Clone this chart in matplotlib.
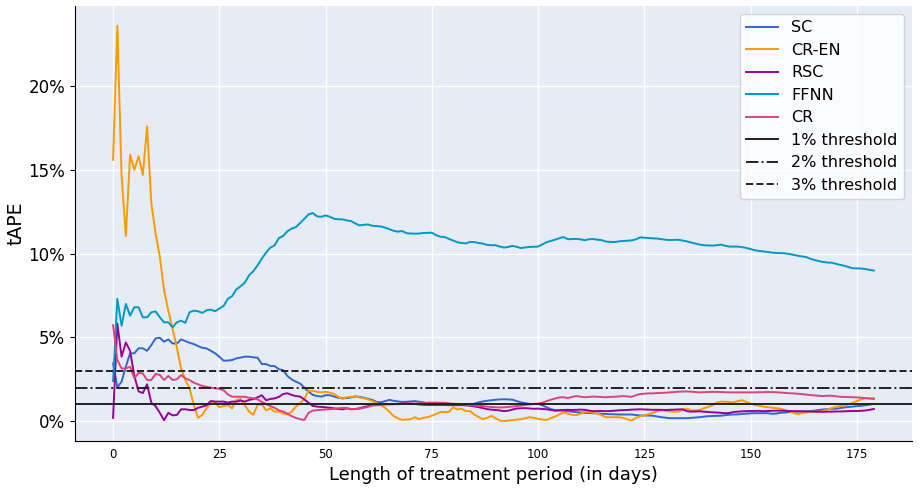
import numpy as np
import matplotlib
matplotlib.use('Agg')
from matplotlib import pyplot as plt
from matplotlib.ticker import PercentFormatter

days = np.arange(180)

# tAPE per day, in percent
sc = [3.45, 2.02, 2.36, 3.25, 4.05, 4.05, 4.35, 4.35, 4.2, 4.54,
      4.94, 4.98, 4.74, 4.88, 4.64, 4.64, 4.88, 4.78, 4.68, 4.6,
      4.48, 4.38, 4.34, 4.2, 4.05, 3.85, 3.61, 3.62, 3.65, 3.75,
      3.8, 3.85, 3.85, 3.81, 3.79, 3.41, 3.41, 3.3, 3.29, 3.1,
      3.05, 2.7, 2.5, 2.36, 2.25, 2.0, 1.76, 1.57, 1.5, 1.47,
      1.55, 1.55, 1.47, 1.4, 1.37, 1.38, 1.42, 1.48, 1.45, 1.4,
      1.33, 1.27, 1.15, 1.13, 1.2, 1.27, 1.22, 1.18, 1.15, 1.16,
      1.18, 1.2, 1.16, 1.13, 1.06, 1.03, 1.03, 1.03, 1.02, 1.01,
      1.0, 1.0, 0.99, 0.98, 0.97, 1.05, 1.12, 1.18, 1.22, 1.25,
      1.28, 1.3, 1.31, 1.3, 1.28, 1.2, 1.12, 1.08, 1.03, 1.03,
      1.03, 0.95, 0.83, 0.72, 0.66, 0.63, 0.63, 0.6, 0.57, 0.54,
      0.52, 0.5, 0.49, 0.48, 0.46, 0.44, 0.43, 0.42, 0.41, 0.4,
      0.4, 0.4, 0.4, 0.37, 0.34, 0.34, 0.34, 0.33, 0.28, 0.24,
      0.21, 0.18, 0.18, 0.18, 0.18, 0.18, 0.2, 0.22, 0.24, 0.27,
      0.3, 0.31, 0.32, 0.33, 0.36, 0.39, 0.4, 0.41, 0.43, 0.45,
      0.47, 0.48, 0.48, 0.48, 0.48, 0.44, 0.46, 0.5, 0.52, 0.54,
      0.56, 0.57, 0.58, 0.59, 0.6, 0.63, 0.67, 0.7, 0.72, 0.74,
      0.75, 0.78, 0.82, 0.85, 0.87, 0.9, 0.92, 0.95, 0.99, 1.03]

cr_en = [15.6, 23.6, 14.6, 11.05, 15.9, 15.0, 15.8, 14.7, 17.6, 13.0,
         11.2, 9.8, 7.8, 6.6, 5.5, 4.4, 3.15, 2.46, 1.96, 0.97,
         0.2, 0.38, 0.77, 1.07, 1.13, 0.83, 0.9, 0.97, 0.77, 1.27,
         1.33, 0.95, 0.57, 0.38, 0.97, 1.0, 0.65, 0.77, 0.57, 0.6,
         0.45, 0.42, 0.57, 0.87, 1.07, 1.33, 1.82, 1.82, 1.75, 1.72,
         1.76, 1.7, 1.63, 1.45, 1.33, 1.43, 1.45, 1.47, 1.42, 1.37,
         1.3, 1.2, 1.1, 0.97, 0.8, 0.57, 0.3, 0.18, 0.08, 0.1,
         0.12, 0.24, 0.12, 0.2, 0.24, 0.33, 0.43, 0.55, 0.55, 0.55,
         0.83, 0.7, 0.75, 0.6, 0.6, 0.4, 0.25, 0.12, 0.2, 0.32,
         0.18, 0.04, 0.0, 0.04, 0.06, 0.1, 0.12, 0.18, 0.24, 0.2,
         0.14, 0.1, 0.08, 0.18, 0.28, 0.4, 0.52, 0.45, 0.38, 0.36,
         0.45, 0.57, 0.55, 0.52, 0.45, 0.35, 0.24, 0.24, 0.24, 0.24,
         0.2, 0.12, 0.04, 0.2, 0.3, 0.36, 0.42, 0.5, 0.58, 0.65,
         0.62, 0.58, 0.57, 0.57, 0.68, 0.75, 0.65, 0.65, 0.67, 0.78,
         0.85, 0.95, 1.1, 1.17, 1.16, 1.14, 1.13, 1.2, 1.25, 1.15,
         1.05, 0.97, 0.92, 0.87, 0.84, 0.81, 0.78, 0.75, 0.68, 0.6,
         0.5, 0.43, 0.48, 0.52, 0.56, 0.57, 0.57, 0.62, 0.68, 0.78,
         0.85, 0.9, 0.93, 1.0, 1.1, 1.2, 1.3, 1.37, 1.37, 1.37]

rsc = [0.2, 5.83, 3.85, 4.7, 4.2, 2.7, 1.78, 1.68, 2.2, 1.1,
       0.9, 0.5, 0.06, 0.5, 0.35, 0.37, 0.71, 0.71, 0.67, 0.67,
       0.8, 0.87, 0.95, 1.21, 1.17, 1.17, 1.17, 1.11, 1.17, 1.17,
       1.23, 1.17, 1.27, 1.32, 1.42, 1.55, 1.25, 1.33, 1.36, 1.45,
       1.62, 1.67, 1.57, 1.5, 1.47, 1.3, 1.1, 0.91, 0.87, 0.85,
       0.83, 0.8, 0.77, 0.73, 0.71, 0.77, 0.71, 0.73, 0.77, 0.85,
       0.9, 0.97, 1.0, 1.03, 1.03, 1.03, 1.03, 1.03, 1.05, 1.06,
       1.05, 1.03, 1.0, 0.98, 0.97, 0.97, 0.97, 0.97, 0.97, 0.96,
       0.96, 0.96, 0.96, 0.95, 0.92, 0.88, 0.84, 0.78, 0.72, 0.69,
       0.67, 0.64, 0.6, 0.63, 0.7, 0.76, 0.77, 0.78, 0.76, 0.74,
       0.75, 0.73, 0.71, 0.67, 0.63, 0.66, 0.67, 0.68, 0.67, 0.68,
       0.69, 0.68, 0.63, 0.6, 0.61, 0.61, 0.6, 0.61, 0.63, 0.65,
       0.66, 0.67, 0.69, 0.7, 0.71, 0.7, 0.69, 0.68, 0.68, 0.68,
       0.67, 0.68, 0.69, 0.7, 0.71, 0.6, 0.57, 0.58, 0.59, 0.57,
       0.55, 0.53, 0.52, 0.5, 0.48, 0.49, 0.55, 0.57, 0.59, 0.6,
       0.61, 0.61, 0.62, 0.6, 0.61, 0.62, 0.63, 0.63, 0.62, 0.61,
       0.6, 0.6, 0.59, 0.58, 0.58, 0.57, 0.57, 0.56, 0.57, 0.57,
       0.58, 0.58, 0.59, 0.6, 0.61, 0.61, 0.62, 0.64, 0.68, 0.73]

ffnn = [2.4, 7.3, 5.7, 7.0, 6.3, 6.8, 6.8, 6.2, 6.2, 6.5,
        6.55, 6.2, 5.9, 5.9, 5.6, 5.9, 6.0, 5.87, 6.5, 6.6,
        6.56, 6.46, 6.62, 6.66, 6.56, 6.72, 6.88, 7.3, 7.46, 7.86,
        8.05, 8.27, 8.71, 8.95, 9.3, 9.7, 10.06, 10.36, 10.49, 10.93,
        11.05, 11.33, 11.49, 11.58, 11.82, 12.08, 12.34, 12.42, 12.22, 12.2,
        12.28, 12.2, 12.08, 12.05, 12.04, 11.98, 11.94, 11.8, 11.68, 11.72,
        11.74, 11.66, 11.64, 11.62, 11.55, 11.46, 11.36, 11.31, 11.35, 11.22,
        11.2, 11.19, 11.2, 11.23, 11.24, 11.25, 11.1, 11.01, 10.99, 10.88,
        10.78, 10.68, 10.63, 10.61, 10.7, 10.69, 10.63, 10.6, 10.52, 10.5,
        10.5, 10.42, 10.36, 10.4, 10.46, 10.4, 10.33, 10.37, 10.4, 10.41,
        10.42, 10.55, 10.68, 10.76, 10.83, 10.92, 10.99, 10.86, 10.87, 10.88,
        10.85, 10.8, 10.86, 10.87, 10.83, 10.8, 10.72, 10.7, 10.69, 10.73,
        10.75, 10.77, 10.79, 10.85, 10.97, 10.95, 10.93, 10.91, 10.9, 10.86,
        10.83, 10.81, 10.82, 10.83, 10.78, 10.73, 10.66, 10.6, 10.54, 10.5,
        10.49, 10.48, 10.5, 10.54, 10.47, 10.42, 10.42, 10.42, 10.38, 10.34,
        10.27, 10.2, 10.16, 10.13, 10.1, 10.06, 10.04, 10.03, 10.02, 9.98,
        9.93, 9.88, 9.83, 9.8, 9.7, 9.62, 9.56, 9.5, 9.47, 9.46,
        9.4, 9.33, 9.28, 9.2, 9.13, 9.12, 9.11, 9.08, 9.03, 8.99]

cr = [5.73, 3.65, 3.15, 3.15, 3.25, 2.56, 2.89, 2.85, 2.46, 2.46,
      2.82, 2.76, 2.46, 2.7, 2.46, 2.5, 2.75, 2.56, 2.45, 2.3,
      2.2, 2.1, 2.05, 2.0, 1.97, 1.93, 1.85, 1.6, 1.46, 1.46,
      1.46, 1.46, 1.4, 1.37, 1.3, 1.15, 1.03, 0.9, 0.8, 0.65,
      0.58, 0.45, 0.3, 0.2, 0.12, 0.08, 0.5, 0.63, 0.66, 0.68,
      0.7, 0.71, 0.74, 0.77, 0.8, 0.78, 0.72, 0.72, 0.75, 0.8,
      0.86, 0.93, 0.95, 0.97, 0.99, 1.0, 1.01, 1.02, 1.03, 1.04,
      1.05, 1.05, 1.06, 1.08, 1.1, 1.11, 1.11, 1.1, 1.1, 1.07,
      1.04, 1.03, 1.02, 1.0, 0.97, 0.95, 0.92, 0.9, 0.87, 0.85,
      0.83, 0.82, 0.83, 0.85, 0.88, 0.91, 0.93, 0.97, 1.0, 1.03,
      1.05, 1.1, 1.2, 1.28, 1.35, 1.42, 1.43, 1.38, 1.45, 1.5,
      1.46, 1.43, 1.45, 1.47, 1.46, 1.44, 1.43, 1.45, 1.46, 1.48,
      1.5, 1.48, 1.45, 1.55, 1.62, 1.64, 1.66, 1.66, 1.68, 1.69,
      1.7, 1.72, 1.74, 1.76, 1.77, 1.78, 1.76, 1.74, 1.72, 1.73,
      1.74, 1.75, 1.75, 1.74, 1.73, 1.72, 1.72, 1.72, 1.72, 1.72,
      1.72, 1.72, 1.73, 1.73, 1.74, 1.74, 1.73, 1.71, 1.69, 1.67,
      1.66, 1.64, 1.62, 1.59, 1.56, 1.54, 1.52, 1.5, 1.52, 1.52,
      1.49, 1.46, 1.45, 1.44, 1.43, 1.42, 1.4, 1.38, 1.35, 1.33]

models = ['SC', 'CR-EN', 'RSC', 'FFNN', 'CR']
colors = ['#3366CC', '#FF9900', '#990099', '#0099C6', '#DD4477']
thresholds = [0.01, 0.02, 0.03]
threshold_labels = ['1% threshold', '2% threshold', '3% threshold']
threshold_styles = ['-', '-.', '--']

fig = plt.figure(figsize=(9.23, 4.93), dpi=100)
ax = fig.add_axes([0.0813, 0.1055, 0.9067, 0.8825])
ax.set_facecolor('#E5ECF6')
ax.grid(True, color='white', linewidth=1)
ax.set_axisbelow(True)

for name, vals, c in zip(models, [sc, cr_en, rsc, ffnn, cr], colors):
    ax.plot(days, np.array(vals) / 100, color=c, linewidth=1.4, label=name)

for t, lab, ls in zip(thresholds, threshold_labels, threshold_styles):
    ax.axhline(t, color='#222222', linestyle=ls, linewidth=1.4, label=lab)

ax.yaxis.set_major_formatter(PercentFormatter(1.0, decimals=0))
ax.tick_params(axis='y', labelsize=12)
ax.tick_params(axis='x', length=0, pad=5)
ax.set_xticks([0, 25, 50, 75, 100, 125, 150, 175])
for lbl in ax.get_xticklabels():
    lbl.set_fontfamily(['Liberation Sans Narrow', 'DejaVu Sans'])
    lbl.set_fontsize(8.5)
ax.set_xlabel('Length of treatment period (in days)', fontsize=13)
ax.set_ylabel('tAPE', fontsize=13.5, labelpad=2)
ax.spines['top'].set_visible(False)
ax.spines['right'].set_visible(False)

ax.legend(loc='upper right', fontsize=11.5, framealpha=0.8,
          labelspacing=0.47, borderpad=0.4)

plt.savefig('out.png', dpi=100)
